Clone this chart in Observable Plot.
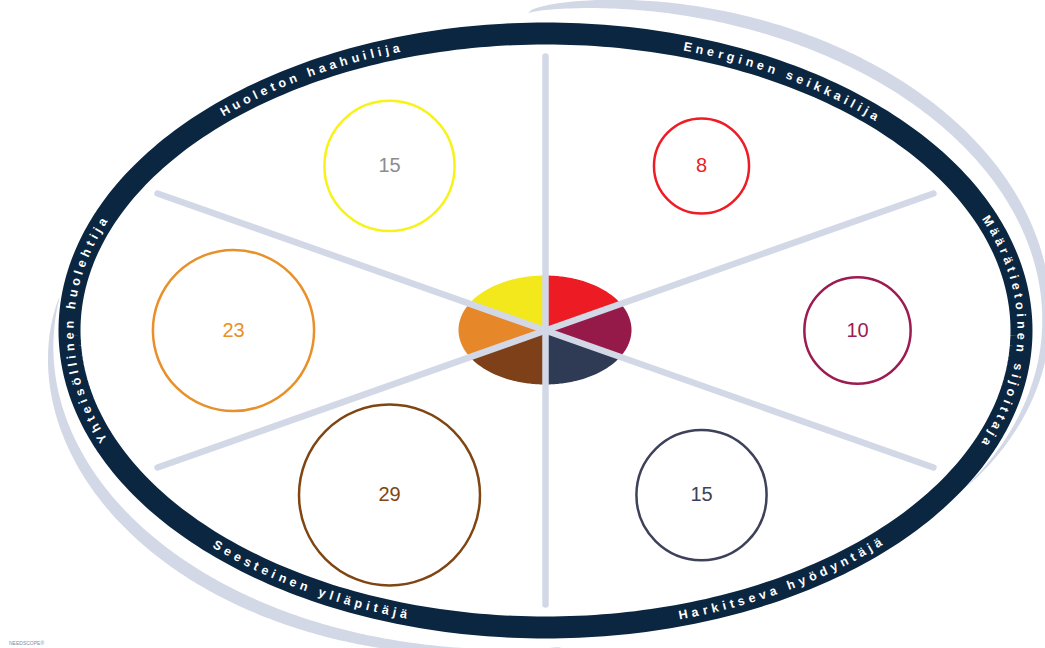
<!DOCTYPE html>
<html><head><meta charset="utf-8">
<script src="https://cdn.jsdelivr.net/npm/d3@7"></script>
<script src="https://cdn.jsdelivr.net/npm/@observablehq/plot@0.6"></script>
<style>
html,body{margin:0;padding:0;background:#fff;}
#chart{position:relative;width:1045px;height:648px;overflow:hidden;}
#brand{position:absolute;left:9px;top:640px;font:5px 'Liberation Sans',Arial,sans-serif;color:#7f8aa3;white-space:nowrap;}
</style></head><body>
<div id="chart"></div>
<script>
// ---- data ----
const segments = ["Huoleton haahuilija", "Energinen seikkailija", "Määrätietoinen sijoittaja", "Harkitseva hyödyntäjä", "Seesteinen ylläpitäjä", "Yhteisöllinen huolehtija"];
const values = [15, 8, 10, 15, 29, 23];
const circleColors = ["#f7f31a", "#ee1c24", "#9c1b50", "#3d4159", "#7f4512", "#e8902a"];
const valueColors = ["#8c8c8c", "#ee1c24", "#9c1b50", "#3d4159", "#7f4512", "#e8902a"];
const pieColors = ["#f2e81c", "#ed1c24", "#961a49", "#2f3a55", "#7d4018", "#e6882a"];
const brand = "NEEDSCOPE®";

// ---- layout ----
const W = 1045, H = 648, cx = 545, cy = 330;
const ring = {a: 476, b: 297, w: 22};
const spokeE = {a: 448, b: 274};
const circleE = {a: 312, b: 190};
const pieE = {a: 86.5, b: 54.5};
const rad = Math.PI / 180;
const segAngle = i => -120 + 60 * i;
const bottomLabels = new Set([3, 4]);
const labelFont = 12.5, labelSpacing = 4.2;
// decorative crescents (shadow swooshes) along the ring
const crescents = [
  {key: "tr", t0: -92, t1: 30, skew: 0.65, baseStart: 20, baseEnd: 12, lift: 14, thick: 13},
  {key: "bl", t0: 88, t1: 186, skew: 0.9, baseStart: 20, baseEnd: 12, lift: 14, thick: 13}
];

function pt(a, b, t) {
  return [cx + a * Math.cos(t * rad), cy + b * Math.sin(t * rad)];
}
function normal(t) {
  const nx = Math.cos(t * rad) / ring.a, ny = Math.sin(t * rad) / ring.b, l = Math.hypot(nx, ny);
  return [nx / l, ny / l];
}

const crescentRows = [];
crescents.forEach(c => {
  for (let t = c.t0; t <= c.t1 + 1e-9; t += 0.5) {
    const u = (t - c.t0) / (c.t1 - c.t0);
    const bump = Math.max(0, Math.sin(Math.PI * Math.pow(u, c.skew)));
    const base = c.baseStart + (c.baseEnd - c.baseStart) * u;
    const din = base + c.lift * bump;
    const dout = din + c.thick * Math.pow(bump, 0.7);
    const p = pt(ring.a, ring.b, t), n = normal(t);
    crescentRows.push({key: c.key, x1: p[0] + n[0] * din, y1: p[1] + n[1] * din, x2: p[0] + n[0] * dout, y2: p[1] + n[1] * dout});
  }
});
const ringRows = d3.range(0, 361, 1).map(t => { const p = pt(ring.a, ring.b, t); return {x: p[0], y: p[1]}; });

// spokes
const spokes = d3.range(6).map(k => { const t = -90 + 60 * k; const p = pt(spokeE.a, spokeE.b, t); return {x2: p[0], y2: p[1]}; });

// pie wedges (boundaries along the spoke directions)
function pieBoundary(t) {
  const dx = spokeE.a * Math.cos(t * rad), dy = spokeE.b * Math.sin(t * rad);
  const k = 1 / Math.sqrt((dx / pieE.a) ** 2 + (dy / pieE.b) ** 2);
  return [cx + dx * k, cy + dy * k];
}
const pieRows = [];
segments.forEach((s, i) => {
  const t0 = segAngle(i) - 30, t1 = segAngle(i) + 30;
  for (let t = t0; t <= t1 + 1e-9; t += 1) {
    const p = pieBoundary(t);
    pieRows.push({key: s, x: p[0], y: p[1], color: pieColors[i]});
  }
});

// bubbles
const bubbles = segments.map((s, i) => {
  const p = pt(circleE.a, circleE.b, segAngle(i));
  return {name: s, v: values[i], x: p[0], y: p[1], stroke: circleColors[i], tcolor: valueColors[i]};
});

// ring labels: characters along the ellipse by arc length
const step = 0.05, T = [], S = [];
{
  let s = 0, prev = pt(ring.a, ring.b, -360);
  for (let k = 0; k <= 720 / step; k++) {
    const t = -360 + k * step, p = pt(ring.a, ring.b, t);
    s += Math.hypot(p[0] - prev[0], p[1] - prev[1]); prev = p;
    T.push(t); S.push(s);
  }
}
const sAt = t => S[Math.round((t + 360) / step)];
const tAt = s => { const i = Math.min(S.length - 1, d3.bisectLeft(S, s)); return T[i]; };
const ctx = document.createElement("canvas").getContext("2d");
ctx.font = `bold ${labelFont}px "Liberation Sans"`;
const chars = [];
segments.forEach((label, i) => {
  const dir = bottomLabels.has(i) ? -1 : 1;
  const cs = [...label];
  const adv = cs.map(c => ctx.measureText(c).width);
  const total = d3.sum(adv) + labelSpacing * (cs.length - 1);
  const sc = sAt(segAngle(i));
  let off = 0;
  cs.forEach((c, k) => {
    const centerOff = off + adv[k] / 2 - total / 2;
    off += adv[k] + labelSpacing;
    if (c === " ") return;
    const t = tAt(sc + dir * centerOff);
    const p = pt(ring.a, ring.b, t);
    const dx = -ring.a * Math.sin(t * rad), dy = ring.b * Math.cos(t * rad);
    chars.push({c, x: p[0], y: p[1], rot: Math.atan2(dir * dy, dir * dx) / rad});
  });
});

const chart = Plot.plot({
  width: W, height: H,
  margin: 0,
  x: {domain: [0, W], range: [0, W], axis: null},
  y: {domain: [0, H], range: [0, H], axis: null},
  r: {type: "sqrt", domain: [0, d3.max(values)], range: [0, 90.5]},
  color: {type: "identity"},
  style: {fontFamily: "'Liberation Sans', Arial, sans-serif", background: "#fff"},
  marks: [
    Plot.area(crescentRows, {x1: "x1", y1: "y1", x2: "x2", y2: "y2", z: "key", fill: "#d3d8e7"}),
    Plot.line(ringRows, {x: "x", y: "y", stroke: "#0b2640", strokeWidth: ring.w, strokeLinejoin: "round"}),
    Plot.area(pieRows, {x1: () => cx, y1: () => cy, x2: "x", y2: "y", z: "key", fill: "color"}),
    Plot.link(spokes, {x1: () => cx, y1: () => cy, x2: "x2", y2: "y2", stroke: "#d3d8e7", strokeWidth: 6.5, strokeLinecap: "round"}),
    Plot.dot(bubbles, {x: "x", y: "y", r: "v", stroke: "stroke", strokeWidth: 2.5, fill: "none"}),
    Plot.text(bubbles, {x: "x", y: "y", text: d => String(d.v), fill: "tcolor", fontSize: 20, textAnchor: "middle", lineAnchor: "middle"}),
    Plot.text(chars, {x: "x", y: "y", text: "c", rotate: "rot", fill: "#ffffff", fontSize: labelFont, fontWeight: "bold", textAnchor: "middle", lineAnchor: "middle"})
  ]
});
const host = document.getElementById("chart");
host.appendChild(chart);
const b = document.createElement("div");
b.id = "brand"; b.textContent = brand;
host.appendChild(b);
</script>
</body></html>
